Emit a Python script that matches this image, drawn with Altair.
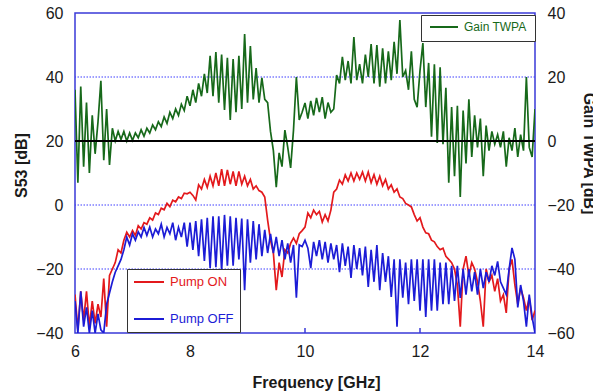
import altair as alt
import pandas as pd

# Frequency sampling of the measured traces (GHz)
FREQ_START = 6.0
FREQ_STEP = 0.05

# TWPA gain [dB] (right axis)
gain_twpa = [
    16, -13, 17, -8, 12, -10, 8, -4, 6, 18.8,
    -6, 10, -7.5, 4, 0, 3, 0.5, 3, 0, 2.5,
    0.2, 2.5, 1, 3.5, 1.5, 4, 2.5, 5, 3.5, 6,
    4.5, 7.5, 5.5, 9, 7, 10, 8, 11.5, 9.5, 14,
    11, 16, 12, 18, 14, 21, 15, 26.6, 14, 27.8,
    12, 27, 9.7, 26, 6.6, 25.6, 9, 26.6, 10, 33.4,
    12, 29.7, 13, 22.8, 12, 19.7, 13, 12, 3, -3,
    -14.4, -3.7, -8, 3.4, -2, -8.4, 3.4, 20, 6.6, 9,
    11.9, 7, 12.5, 8, 13.5, 9, 13.7, 7, 12, 9,
    10, 20.6, 18, 26.3, 19, 25, 18, 32.5, 19, 24,
    18, 27, 20, 30.3, 18, 30, 17, 29, 18, 28,
    19, 31, 21, 37.8, 20, 22, 16, 28, 13, 10.6,
    22, 30.6, 10.6, 24.4, 1.3, 24, -0.6, 23, -1, 16.6,
    -13, 10.6, -11, 11, -17.5, 9.5, -7, 13, -5, 8,
    -2, 7, -11, 4.8, -3, 3, -1, 2, -2, 3,
    -8, 1, -3, 4, -5, 2, -3, 20, -2, -5,
    10,
]

# S53 with pump on [dB] (left axis)
pump_on = [
    -28, -39, -27, -36, -27, -38, -30, -37, -31, -35,
    -23, -38, -22, -20, -18, -14, -15, -11, -8.5, -10,
    -8, -9.5, -6.5, -7.5, -5.5, -6, -4, -4.7, -2.5, -3,
    -1, -1.5, 0.5, -0.5, 1.5, 1, 2.5, 2, 3.7, 3.5,
    4, 3, 1.6, 6.3, 5, 8, 5.5, 9, 6, 10,
    6, 11.2, 6, 11, 6.5, 10.5, 6, 10.5, 6.5, 9,
    6, 8, 5, 6, 4.5, 4, 2.5, -4.7, -11, -15,
    -26.6, -18, -22.5, -14, -15, -12, -10.3, -12, -9, -8,
    -6.9, -2.5, -4, -1.6, -3, -2, -5.3, -3, -5, -1.6,
    4, 5, 7.8, 6.5, 9.4, 7.5, 10, 7.5, 10, 8,
    10.3, 7.5, 10.3, 7, 9.5, 6.5, 9, 6, 8, 5,
    6.3, 4, 5, 2.5, 2, 0.5, 0, -0.6, -3, -5,
    -4, -6.9, -8.7, -9, -11, -11.5, -13, -14, -13.5, -16,
    -17, -18, -20, -25, -38, -20, -16, -22, -18, -20,
    -24, -30, -38, -20, -24, -22, -27, -23, -30, -28,
    -33.7, -20, -17, -25, -31, -26, -29, -33, -29, -36,
    -33,
]

# S53 with pump off [dB] (left axis)
pump_off = [
    -30, -40, -27, -38, -32, -40, -33, -40, -34, -39,
    -40, -31, -27.5, -24, -21, -19, -17, -14, -10, -12.5,
    -9, -11, -8.4, -10, -7, -9.5, -6.9, -10, -7.5, -9,
    -6, -10, -7, -9, -5.5, -11, -7, -10, -5.5, -13,
    -5.5, -14, -5, -16, -4.5, -17.5, -4, -19.7, -3.5, -19.4,
    -3.5, -20.5, -3.1, -19, -3.5, -19, -4, -17, -4.2, -26.6,
    -4.5, -18, -5, -17, -6, -16, -7.8, -15, -9, -15,
    -10, -16, -11, -17, -12, -18, -12.5, -29, -12.5, -13,
    -11, -13.5, -19.7, -11.5, -16, -11, -17, -11.5, -18, -12,
    -17, -12.5, -21, -12, -19, -13, -22.8, -12.5, -20, -13.5,
    -22, -13, -25.6, -14, -24, -12.5, -26.6, -15, -24, -16,
    -28.7, -17, -38, -17, -29, -18, -31, -17, -30, -17,
    -33, -17, -35, -17, -33, -17, -33, -18, -31, -18,
    -31, -19, -30, -19, -29, -20, -28, -20, -27, -21,
    -28, -20, -26, -21, -24, -19, -22, -17.6, -24, -26,
    -28, -20, -13.4, -17, -32, -25, -30, -38, -28, -35,
    -40,
]

x_ticks = [6, 8, 10, 12, 14]
inner_ticks = [8, 10, 12]
s53_ticks = [-40, -20, 0, 20, 40, 60]
s53_grid = [40, 0, -20]
gain_ticks = [-60, -40, -20, 0, 20, 40]
gain_reference = [0]
tick_span = [-40, -38.4]

GREEN = "#17691a"
RED = "#e3191c"
BLUE = "#1c1cd6"
FRAME = "#3a3ad8"
GRID = "#3c3cff"
FONT = "Liberation Sans"
TEXT = "#1a1a1a"


def freq_axis(values):
    return [round(FREQ_START + i * FREQ_STEP, 2) for i in range(len(values))]


gain_df = pd.DataFrame({
    "freq": freq_axis(gain_twpa),
    "gain": gain_twpa,
    "series": "Gain TWPA",
})
s53_df = pd.DataFrame({
    "freq": freq_axis(pump_on) + freq_axis(pump_off),
    "s53": pump_on + pump_off,
    "series": ["Pump ON"] * len(pump_on) + ["Pump OFF"] * len(pump_off),
})
ticks_df = pd.DataFrame({
    "freq": inner_ticks,
    "s53": [tick_span[0]] * len(inner_ticks),
    "s53_top": [tick_span[1]] * len(inner_ticks),
})
grid_df = pd.DataFrame({"s53": s53_grid})
ref_df = pd.DataFrame({"gain": gain_reference})

x_enc = alt.X(
    "freq:Q",
    scale=alt.Scale(domain=[6, 14], nice=False, zero=False),
    axis=alt.Axis(
        values=x_ticks, format="d", title="Frequency [GHz]", grid=False,
        ticks=False, domain=False, labelPadding=10, labelFlush=False,
        titleX=241, titleY=54, titleBaseline="alphabetic",
        titleAlign="center",
    ),
)

gain_y = alt.Y(
    "gain:Q",
    scale=alt.Scale(domain=[-60, 40], nice=False, zero=False),
    axis=alt.Axis(
        orient="right", values=gain_ticks, title="Gain TWPA [dB]",
        grid=False, ticks=False, domain=False, labelPadding=12,
        labelFlush=False, titleAngle=90, titleX=53, titleY=140,
        titleAlign="center", titleBaseline="middle",
    ),
)

s53_y = alt.Y(
    "s53:Q",
    scale=alt.Scale(domain=[-40, 60], nice=False, zero=False),
    axis=alt.Axis(
        orient="left", values=s53_ticks, title="S53 [dB]",
        grid=False, ticks=False, domain=False, labelPadding=12,
        labelFlush=False, titleAngle=270, titleX=-54, titleY=152,
        titleAlign="center", titleBaseline="middle",
    ),
)

# dotted horizontal guides on the S53 scale
grid_rules = alt.Chart(grid_df).mark_rule(
    color=GRID, strokeWidth=1, strokeDash=[1.5, 1.5]
).encode(y=s53_y)

gain_line = alt.Chart(gain_df).mark_line(strokeWidth=1.7, clip=True).encode(
    x=x_enc,
    y=gain_y,
    color=alt.Color(
        "series:N",
        scale=alt.Scale(domain=["Gain TWPA"], range=[GREEN]),
        legend=alt.Legend(
            title=None, orient="none", legendX=346, legendY=2,
            direction="vertical", symbolType="stroke", symbolSize=784,
            symbolStrokeWidth=2, labelColor=GREEN, labelFont=FONT,
            labelFontSize=12, labelOffset=5, strokeColor="#333333",
            fillColor="white", padding=8, clipHeight=8,
        ),
    ),
)

zero_gain = alt.Chart(ref_df).mark_rule(color="black", strokeWidth=2).encode(
    y=gain_y
)

s53_lines = alt.Chart(s53_df).mark_line(strokeWidth=1.7, clip=True).encode(
    x=x_enc,
    y=s53_y,
    color=alt.Color(
        "series:N",
        scale=alt.Scale(domain=["Pump ON", "Pump OFF"], range=[RED, BLUE]),
        sort=["Pump ON", "Pump OFF"],
        legend=alt.Legend(
            title=None, orient="none", legendX=52, legendY=256,
            direction="vertical", symbolType="stroke", symbolSize=900,
            symbolStrokeWidth=2, labelFont=FONT, labelFontSize=13,
            labelOffset=5,
            labelColor=alt.ExprRef(
                expr=f"datum.value == 'Pump ON' ? '{RED}' : '{BLUE}'"
            ),
            strokeColor="#333333", fillColor="white", padding=6,
            clipHeight=14, rowPadding=23,
        ),
    ),
)

bottom_ticks = alt.Chart(ticks_df).mark_rule(color=FRAME, strokeWidth=1.5).encode(
    x=x_enc,
    y=s53_y,
    y2=alt.Y2("s53_top:Q"),
)

right_layer = alt.layer(gain_line, zero_gain)
left_layer = alt.layer(grid_rules, s53_lines, bottom_ticks)

chart = (
    alt.layer(left_layer, right_layer)
    .resolve_scale(y="independent", color="independent")
    .properties(
        width=460,
        height=320,
        padding={"left": 75, "top": 13, "right": 58, "bottom": 59},
        autosize=alt.AutoSizeParams(type="none"),
        background="white",
    )
    .configure_view(stroke=FRAME, strokeWidth=1.5)
    .configure_axis(
        labelFont=FONT, titleFont=FONT, labelFontSize=16, titleFontSize=16,
        labelColor=TEXT, titleColor=TEXT, titleFontWeight="bold",
    )
)

chart.save("out.html", embed_options={"renderer": "svg", "actions": False})
